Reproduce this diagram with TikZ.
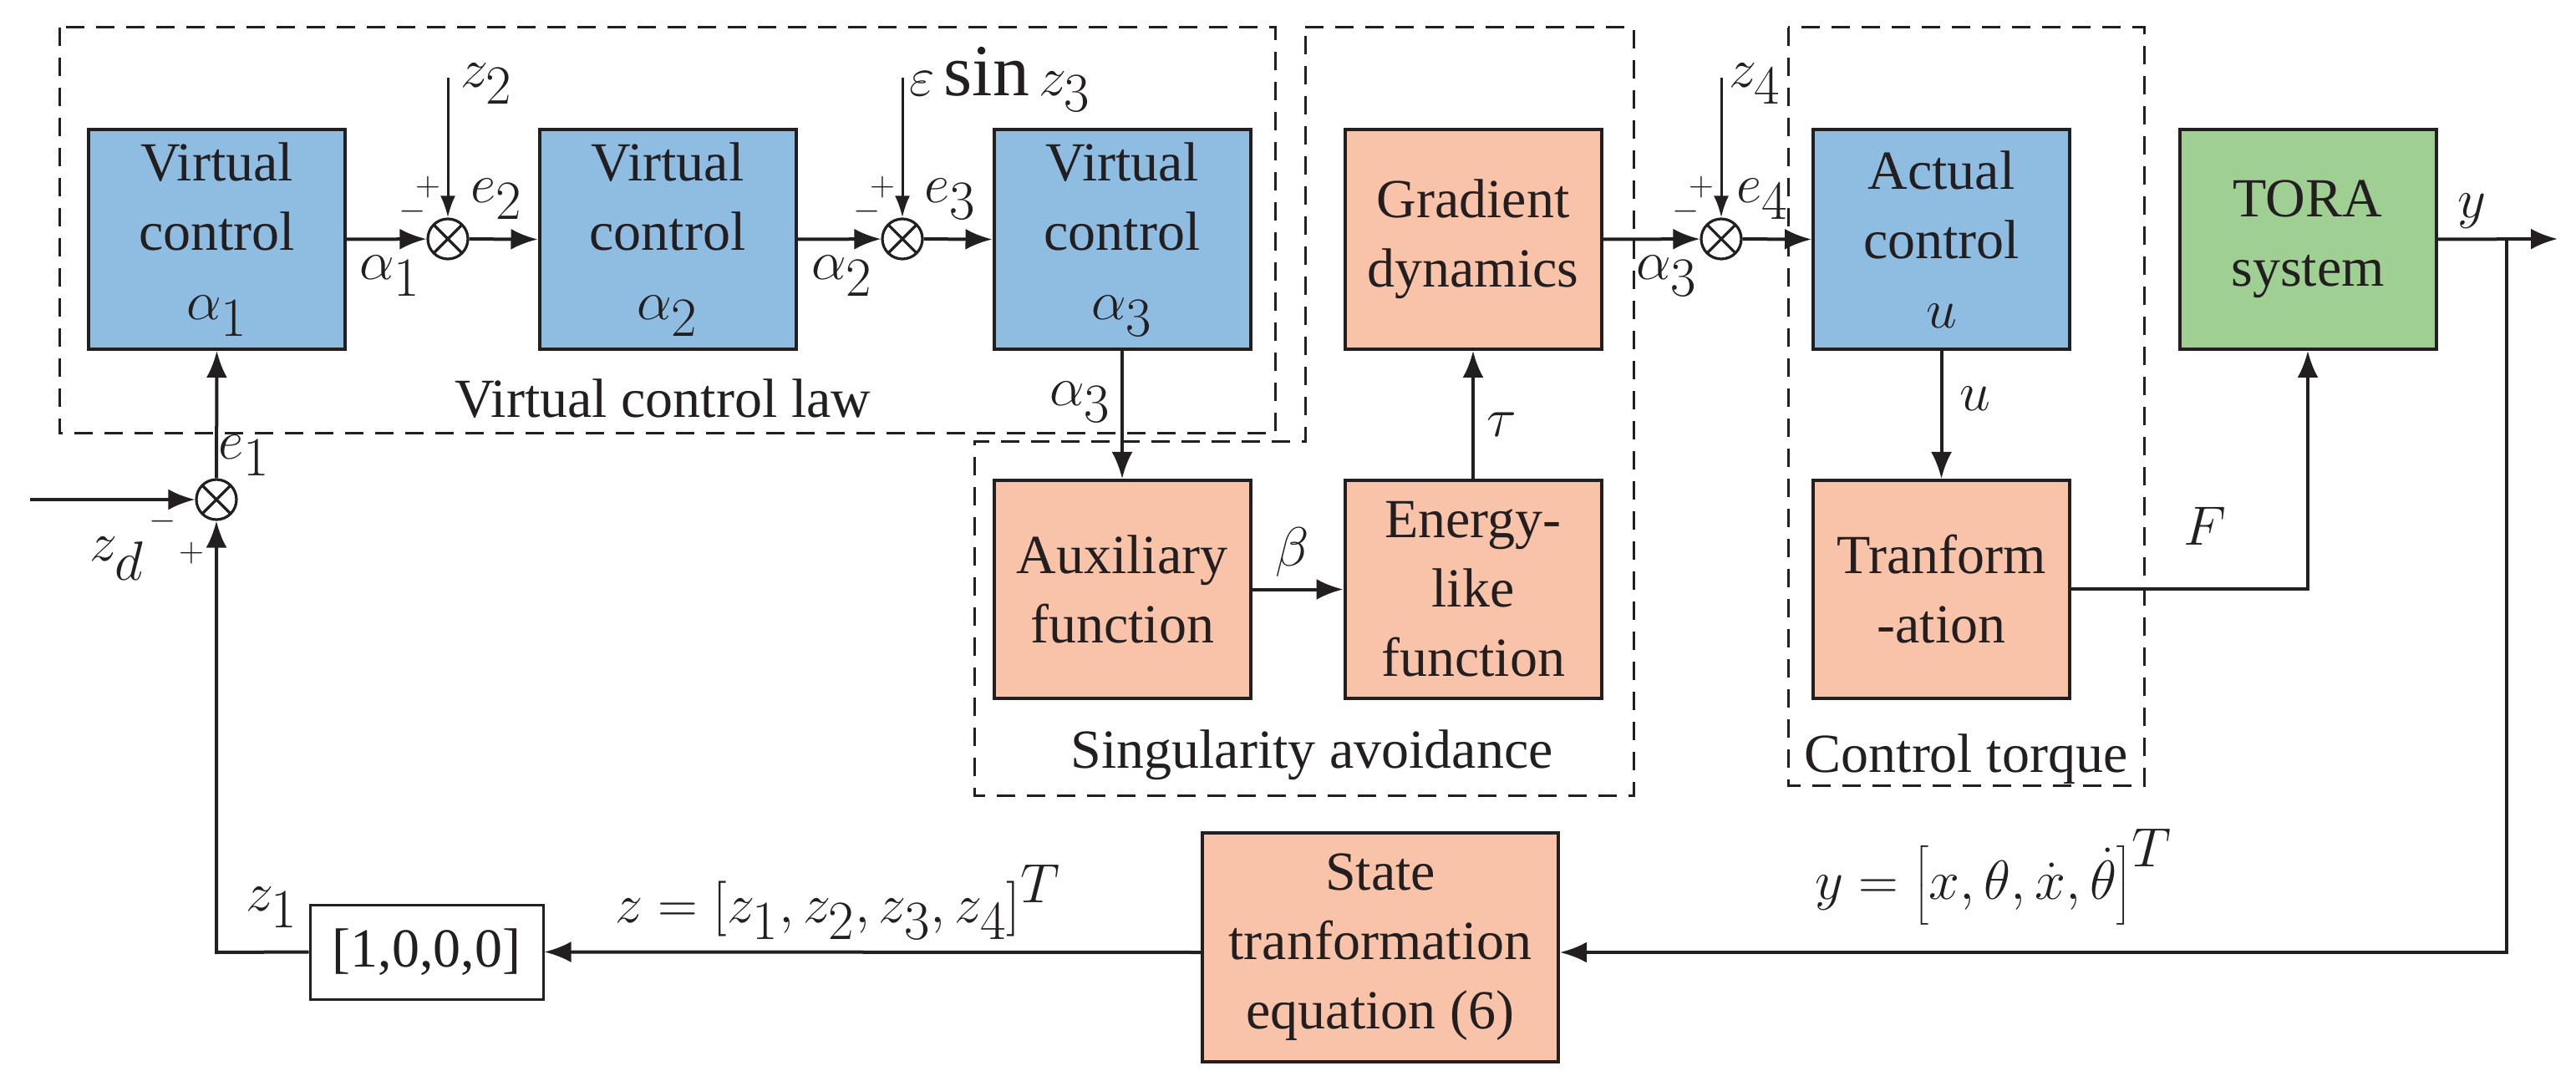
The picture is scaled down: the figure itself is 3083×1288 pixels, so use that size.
\documentclass[tikz,border=0pt]{standalone}
\usepackage{fontspec}
\setmainfont{Liberation Serif}
\usetikzlibrary{arrows.meta}
\newcommand\M[1]{\scalebox{1.33}{$#1$}}
\definecolor{cblue}{HTML}{8FBDE1}
\definecolor{corange}{HTML}{F8C3A8}
\definecolor{cgreen}{HTML}{A0CF94}
\definecolor{ink}{HTML}{231F20}
\begin{document}
\begin{tikzpicture}[x=0.5pt,y=-0.5pt,
  every node/.style={font=\fontsize{33}{41.5}\selectfont, text=ink},
  blk/.style={draw=ink, line width=2pt, align=center, minimum width=153.5pt, minimum height=131.5pt, inner sep=0pt},
  sum/.style={draw=ink, circle, line width=1.6pt, minimum size=24pt, inner sep=0pt,
     path picture={\draw[ink,line width=1.6pt] (path picture bounding box.north west)--(path picture bounding box.south east) (path picture bounding box.north east)--(path picture bounding box.south west);}},
  con/.style={draw=ink, line width=2pt, -{Latex[length=16pt,width=12.5pt]}},
  thin/.style={draw=ink, line width=1.5pt, -{Latex[length=13pt,width=9pt]}},
  dbox/.style={draw=ink, line width=1.5pt, dash pattern=on 11pt off 7pt},
  sg/.style={font=\fontsize{20}{20}\selectfont, inner sep=0pt},
  lbl/.style={inner sep=0pt}]
\useasboundingbox (0,0) rectangle (3083,1288);
% dashed groups
\draw[dbox] (71,33) rectangle (1526,519);
\draw[dbox] (1562,33) -- (1955,33) -- (1955,952) -- (1166,952) -- (1166,529) -- (1562,529) -- cycle;
\draw[dbox] (2140,33) rectangle (2566,940);
\node[anchor=west] (tvcl) at (537,477) {Virtual control law};
\node (tsa) at (1570,904) {Singularity avoidance};
\node (tct) at (2353,909) {Control torque};
% blocks
\node[blk, fill=cblue] (a1) at (259.5,286.5) {Virtual\\control\\\M{\alpha_1}};
\node[blk, fill=cblue] (a2) at (799,286.5) {Virtual\\control\\\M{\alpha_2}};
\node[blk, fill=cblue] (a3) at (1343,286.5) {Virtual\\control\\\M{\alpha_3}};
\node[blk, fill=corange] (gd) at (1763,286.5) {Gradient\\dynamics};
\node[blk, fill=cblue] (ac) at (2323.5,286.5) {Actual\\control\\\M{u}};
\node[blk, fill=cgreen] (tora) at (2762,286.5) {TORA\\system};
\node[blk, fill=corange, minimum height=130.5pt] (aux) at (1343,705.5) {Auxiliary\\function};
\node[blk, fill=corange, minimum height=130.5pt] (en) at (1763,705.5) {Energy-\\like\\function};
\node[blk, fill=corange, minimum height=130.5pt] (tr) at (2323.5,705.5) {Tranform\\-ation};
\node[blk, fill=corange, minimum width=213pt, minimum height=137pt] (st) at (1652,1134) {State\\tranformation\\equation (6)};
\node[draw=ink, line width=1.5pt, minimum width=139.5pt, minimum height=56.5pt, inner sep=0pt] (vec) at (510.5,1139.5) {[1,0,0,0]};
% sums
\node[sum] (s1) at (259,598) {};
\node[sum] (s2) at (536,286) {};
\node[sum] (s3) at (1080,286) {};
\node[sum] (s4) at (2060,286) {};
% coordinates
\coordinate (in) at (36,598);
\coordinate (z2t) at (536,93);
\coordinate (z3t) at (1080,93);
\coordinate (z4t) at (2060,93);
\coordinate (yout) at (3061,286);
\coordinate (br) at (3000,286);
\coordinate (brd) at (3000,1140);
\coordinate (fc) at (2762,705);
\coordinate (fb) at (259,1140);
% connectors
\draw[con] (in) -- (s1);
\draw[con] (s1) -- (a1.south);
\draw[con] (a1.east) -- (s2);
\draw[thin] (z2t) -- (s2);
\draw[con] (s2) -- (a2.west);
\draw[con] (a2.east) -- (s3);
\draw[thin] (z3t) -- (s3);
\draw[con] (s3) -- (a3.west);
\draw[con] (a3.south) -- (aux.north);
\draw[con] (aux.east) -- (en.west);
\draw[con] (en.north) -- (gd.south);
\draw[con] (gd.east) -- (s4);
\draw[thin] (z4t) -- (s4);
\draw[con] (s4) -- (ac.west);
\draw[con] (ac.south) -- (tr.north);
\draw[con] (tr.east |- fc) -- (fc) -- (tora.south);
\draw[con] (tora.east) -- (yout);
\draw[con] (br) -- (brd) -- (st.east |- brd);
\draw[con] (st.west |- brd) -- (vec.east);
\draw[con] (vec.west) -- (fb) -- (s1);
% labels
\node[lbl] at (292,545) {\M{e_1}};
\node[lbl] at (467,330) {\M{\alpha_1}};
\node[lbl] at (594,238) {\M{e_2}};
\node[lbl] at (582,100) {\M{z_2}};
\node[lbl] at (1008,330) {\M{\alpha_2}};
\node[lbl] at (1137,238) {\M{e_3}};
\node[lbl, anchor=west] at (1088,95) {\M{\varepsilon\sin z_3}};
\node[lbl, anchor=east] at (1330,481) {\M{\alpha_3}};
\node[lbl] at (1547,661) {\M{\beta}};
\node[lbl] at (1797,508) {\M{\tau}};
\node[lbl] at (1995,330) {\M{\alpha_3}};
\node[lbl] at (2100,100) {\M{z_4}};
\node[lbl] at (2109,238) {\M{e_4}};
\node[lbl] at (2364,477) {\M{u}};
\node[lbl] at (2639,630) {\M{F}};
\node[lbl] at (2958,253) {\M{y}};
\node[lbl] at (325,1086) {\M{z_1}};
\node[lbl] at (140,669) {\M{z_d}};
\node[lbl] at (1003,1080) {\M{z=\left[z_1,z_2,z_3,z_4\right]^T}};
\node[lbl] at (2386,1050) {\M{y=\left[x,\theta,\dot x,\dot\theta\right]^T}};
% signs
\node[sg] at (195,624) {$-$};
\node[sg] at (229,662) {$+$};
\foreach \s in {s2,s3,s4}{
  \node[sg] at ([shift={(-24,-62)}]\s) {$+$};
  \node[sg] at ([shift={(-42,-33)}]\s) {$-$};
}
\end{tikzpicture}
\end{document}
